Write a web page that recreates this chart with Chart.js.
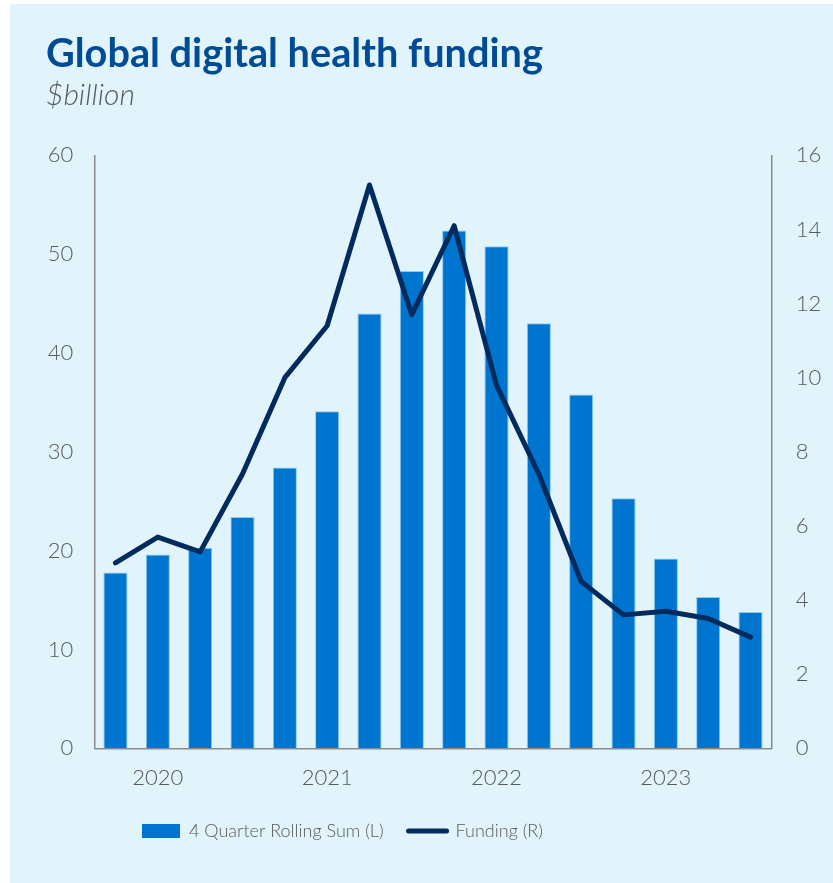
<!DOCTYPE html>
<html>
<head>
<meta charset="utf-8">
<script src="https://cdn.jsdelivr.net/npm/chart.js@4"></script>
<style>
  html, body { margin: 0; padding: 0; background: #ffffff; }
  #panel { position: absolute; left: 10px; top: 4px; width: 823px; height: 879px; background: #e1f4fc; }
  #wrap { position: absolute; left: 0; top: 0; width: 833px; height: 883px; }
</style>
</head>
<body>
<div id="panel"></div>
<div id="wrap"><canvas id="c" width="833" height="883"></canvas></div>
<script>
// ---- Data ----
const categories = ['2020 Q1','2020 Q2','2020 Q3','2020 Q4','2021 Q1','2021 Q2','2021 Q3','2021 Q4',
                    '2022 Q1','2022 Q2','2022 Q3','2022 Q4','2023 Q1','2023 Q2','2023 Q3','2023 Q4'];
const xTickLabels = ['', '2020', '', '', '', '2021', '', '', '', '2022', '', '', '', '2023', '', ''];
const rollingSum = [17.8, 19.6, 20.3, 23.4, 28.4, 34.1, 44.0, 48.3, 52.4, 50.8, 43.0, 35.8, 25.3, 19.2, 15.3, 13.8];
const funding = [5.0, 5.7, 5.3, 7.4, 10.0, 11.4, 15.2, 11.7, 14.1, 9.8, 7.4, 4.5, 3.6, 3.7, 3.5, 3.0];
const leftAxis = { min: 0, max: 60, step: 10 };
const rightAxis = { min: 0, max: 16, step: 2 };
const seriesNames = ['4 Quarter Rolling Sum (L)', 'Funding (R)'];
const titleText = 'Global digital health funding';
const subtitleText = '$billion';

// ---- Styling / layout ----
const FONT = 'Lato';
const textGray = '#595959';
const axisGray = '#8c8c8c';

const mctx = document.createElement('canvas').getContext('2d');
function fitSize(text, weight, style, target) {
  const s = 40;
  mctx.font = `${style} ${weight} ${s}px ${FONT}`;
  return s * target / mctx.measureText(text).width;
}
const titleSize = fitSize(titleText, 700, 'normal', 497);
const subSize = 30;
const MID = 0.387; // Lato middle-baseline offset (em)
const titlePadTop = 70 - MID * titleSize - 0.6 * titleSize;
const titleBottom = titlePadTop + 1.2 * titleSize;
const subPadTop = (107 - MID * subSize) - titleBottom - 0.6 * subSize;
const subBottomNoPad = titleBottom + subPadTop + 1.2 * subSize;
const plotTop = 155.3, plotBottom = 748.3, plotLeft = 94.3, plotRight = 771.7;
const subPadBottom = plotTop - subBottomNoPad;
const tickSize = 22;
const xTickPad = 16;
const xAxisHeight = 2 * xTickPad + 1.2 * tickSize;
const legendSize = 18;
const legendPad = 25;
const legendHeight = legendSize + legendPad + 10;
const legendCenterY = 831;
const legendLeft = 142;
const layoutLeft = 46;
const layoutBottom = 883 - plotBottom - xAxisHeight - legendHeight;

const legendPlace = {
  id: 'legendPlace',
  afterLayout(chart) {
    const lg = chart.legend;
    if (!lg) return;
    lg.left = legendLeft - legendPad;
    lg.top = legendCenterY - legendPad - legendSize / 2;
    lg.bottom = lg.top + lg.height;
  }
};

new Chart(document.getElementById('c'), {
  type: 'bar',
  data: {
    labels: categories,
    datasets: [
      {
        type: 'bar',
        label: seriesNames[0],
        data: rollingSum,
        yAxisID: 'y',
        backgroundColor: '#0075cf',
        borderColor: '#8ccaf0',
        borderWidth: 1,
        borderSkipped: 'bottom',
        barPercentage: 0.57,
        categoryPercentage: 1.0,
        pointStyle: 'rect',
        order: 1
      },
      {
        type: 'line',
        label: seriesNames[1],
        data: funding,
        yAxisID: 'y1',
        borderColor: '#002b5c',
        backgroundColor: '#002b5c',
        borderWidth: 5,
        borderCapStyle: 'round',
        borderJoinStyle: 'round',
        pointRadius: 0,
        pointHoverRadius: 0,
        tension: 0,
        pointStyle: 'line',
        order: 0
      }
    ]
  },
  options: {
    responsive: false,
    animation: false,
    devicePixelRatio: 1,
    layout: { padding: { left: layoutLeft, right: 0, top: 0, bottom: layoutBottom } },
    plugins: {
      title: {
        display: true,
        text: titleText,
        align: 'start',
        color: '#004b96',
        font: { family: FONT, size: titleSize, weight: 'bold', lineHeight: 1.2 },
        padding: { top: titlePadTop, bottom: 0 }
      },
      subtitle: {
        display: true,
        text: subtitleText,
        align: 'start',
        color: textGray,
        font: { family: FONT, size: subSize, weight: 300, style: 'italic', lineHeight: 1.2 },
        padding: { top: subPadTop, bottom: subPadBottom }
      },
      legend: {
        display: true,
        position: 'bottom',
        align: 'start',
        labels: {
          usePointStyle: true,
          pointStyleWidth: 38,
          boxHeight: 14,
          padding: legendPad,
          color: textGray,
          font: { family: FONT, size: legendSize, weight: 300 },
          sort: (a, b) => a.datasetIndex - b.datasetIndex,
          generateLabels(chart) {
            const items = Chart.defaults.plugins.legend.labels.generateLabels(chart);
            items.forEach(it => {
              if (it.datasetIndex === 0) { it.lineWidth = 0; it.strokeStyle = 'rgba(0,0,0,0)'; }
              else { it.lineCap = 'round'; it.lineWidth = 5; }
            });
            return items;
          }
        }
      },
      tooltip: { enabled: false }
    },
    scales: {
      x: {
        type: 'category',
        grid: { display: false, drawTicks: false },
        border: { display: true, color: axisGray, width: 1.5 },
        ticks: {
          autoSkip: false,
          maxRotation: 0,
          padding: xTickPad,
          color: textGray,
          font: { family: FONT, size: tickSize, weight: 300 },
          callback: (v, i) => xTickLabels[i]
        }
      },
      y: {
        position: 'left',
        min: leftAxis.min, max: leftAxis.max,
        grid: { display: false, drawTicks: false },
        border: { display: true, color: axisGray, width: 1.5 },
        ticks: {
          stepSize: leftAxis.step,
          padding: 21,
          color: textGray,
          font: { family: FONT, size: tickSize, weight: 300 }
        },
        afterFit(scale) { scale.width = plotLeft - layoutLeft; }
      },
      y1: {
        position: 'right',
        min: rightAxis.min, max: rightAxis.max,
        grid: { display: false, drawTicks: false },
        border: { display: true, color: axisGray, width: 1.5 },
        ticks: {
          stepSize: rightAxis.step,
          padding: 24,
          color: textGray,
          font: { family: FONT, size: tickSize, weight: 300 }
        },
        afterFit(scale) { scale.width = 833 - plotRight; }
      }
    }
  },
  plugins: [legendPlace]
});
</script>
</body>
</html>
